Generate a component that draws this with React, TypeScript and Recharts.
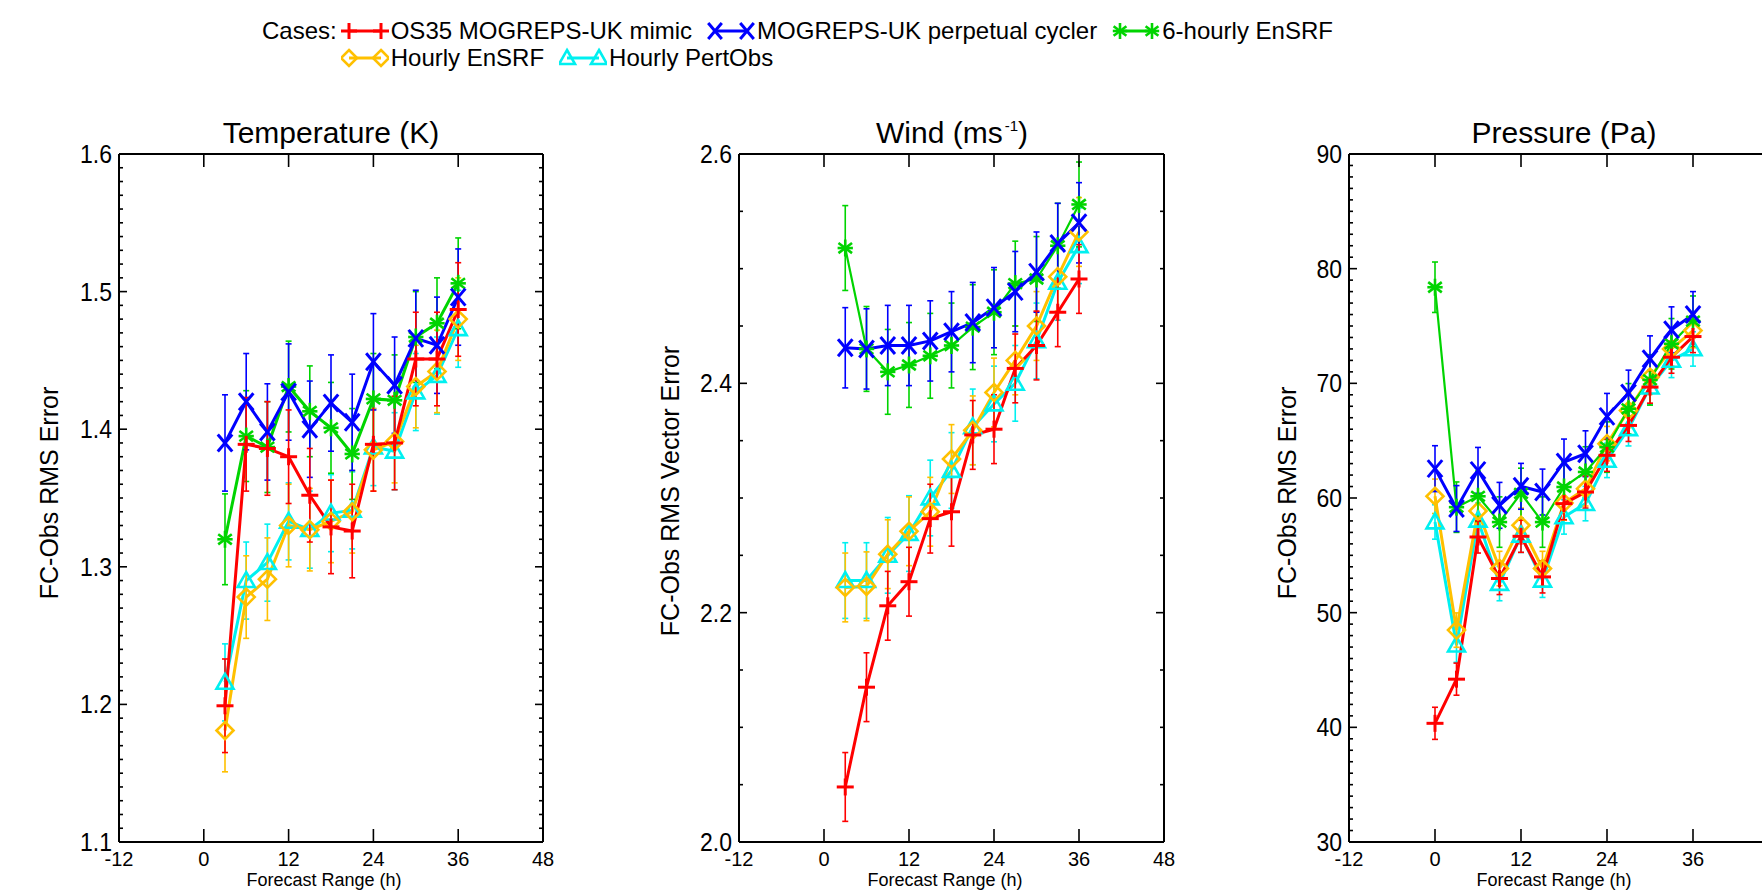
import React from 'react';
import { LineChart, Line, XAxis, YAxis, ErrorBar } from 'recharts';

// forecast ranges (h)
const hours = [3, 6, 9, 12, 15, 18, 21, 24, 27, 30, 33, 36];
const hoursP = [0, 3, 6, 9, 12, 15, 18, 21, 24, 27, 30, 33, 36];

// Temperature (K)
const tempOS35 = [1.199, 1.389, 1.386, 1.38, 1.352, 1.329, 1.326, 1.389, 1.39, 1.451, 1.451, 1.487];
const tempCycler = [1.39, 1.42, 1.398, 1.427, 1.4, 1.419, 1.405, 1.449, 1.432, 1.466, 1.461, 1.496];
const tempEns6 = [1.32, 1.395, 1.387, 1.431, 1.413, 1.401, 1.382, 1.422, 1.421, 1.467, 1.477, 1.506];
const tempEnsH = [1.181, 1.278, 1.291, 1.33, 1.327, 1.333, 1.34, 1.385, 1.391, 1.431, 1.442, 1.48];
const tempPert = [1.216, 1.29, 1.303, 1.333, 1.327, 1.339, 1.341, 1.387, 1.384, 1.427, 1.439, 1.473];
const tempErr = [0.034, 0.035, 0.033, 0.03, 0.028];

// Wind (m/s)
const windOS35 = [2.048, 2.135, 2.206, 2.227, 2.282, 2.288, 2.355, 2.36, 2.413, 2.433, 2.462, 2.491];
const windCycler = [2.431, 2.43, 2.433, 2.433, 2.437, 2.445, 2.453, 2.466, 2.48, 2.497, 2.522, 2.54];
const windEns6 = [2.518, 2.43, 2.41, 2.416, 2.424, 2.433, 2.449, 2.462, 2.487, 2.491, 2.52, 2.556];
const windEnsH = [2.222, 2.223, 2.251, 2.271, 2.288, 2.334, 2.359, 2.392, 2.42, 2.45, 2.493, 2.532];
const windPert = [2.228, 2.228, 2.25, 2.269, 2.3, 2.324, 2.362, 2.382, 2.4, 2.437, 2.488, 2.52];
const windErr = [0.03, 0.035, 0.037, 0.03, 0.033];

// Pressure (Pa)
const presOS35 = [40.35, 44.2, 56.6, 52.98, 56.66, 53.12, 59.51, 60.52, 63.72, 66.33, 69.67, 72.28, 74.08];
const presCycler = [62.56, 59.08, 62.41, 59.36, 61.02, 60.52, 63.14, 63.86, 67.12, 69.15, 72.14, 74.67, 76.0];
const presEns6 = [78.38, 59.2, 60.15, 57.9, 60.4, 57.9, 60.96, 62.27, 64.44, 67.78, 70.3, 73.45, 75.42];
const presEnsH = [60.15, 48.48, 58.87, 53.85, 57.62, 53.85, 59.57, 60.8, 64.74, 67.64, 70.54, 73.0, 74.6];
const presPert = [57.91, 47.17, 58.06, 52.54, 56.75, 52.83, 58.35, 59.51, 63.28, 66.04, 69.67, 72.0, 73.0];
const presErr = [1.4, 2.0, 2.2, 1.5, 1.5];

const xTicks = [-12, 0, 12, 24, 36, 48];
const tempMajor = [1.1, 1.2, 1.3, 1.4, 1.5, 1.6];
const windMajor = [2.0, 2.2, 2.4, 2.6];
const presMajor = [30, 40, 50, 60, 70, 80, 90];

const caseNames = ['OS35 MOGREPS-UK mimic', 'MOGREPS-UK perpetual cycler', '6-hourly EnSRF', 'Hourly EnSRF', 'Hourly PertObs'];
const caseKeys = ['os35', 'cycler', 'ens6', 'ensH', 'pert'];
const caseColors = ['#ff0000', '#0000ff', '#00d400', '#ffc000', '#00f0f0'];
const caseMarks = ['plus', 'x', 'star', 'diamond', 'tri'];
// drawing order, last on top
const drawOrder = [4, 3, 2, 1, 0];

const FONT = '"Liberation Sans", Arial, Helvetica, sans-serif';

const buildRows = (xs: number[], series: number[][], errs: number[]) =>
  xs.map((x, i) => {
    const r: any = { x };
    caseKeys.forEach((k, j) => {
      r[k] = series[j][i];
      r[k + 'E'] = errs[j];
    });
    return r;
  });

const tempRows = buildRows(hours, [tempOS35, tempCycler, tempEns6, tempEnsH, tempPert], tempErr);
const windRows = buildRows(hours, [windOS35, windCycler, windEns6, windEnsH, windPert], windErr);
const presRows = buildRows(hoursP, [presOS35, presCycler, presEns6, presEnsH, presPert], presErr);

const Mark = ({ kind, cx, cy, color, r = 8.5, sw = 2.6 }: any) => {
  if (cx == null || cy == null) return null;
  const common = { stroke: color, strokeWidth: sw, fill: 'none' };
  if (kind === 'plus')
    return (
      <g {...common} strokeWidth={3}>
        <line x1={cx - r} y1={cy} x2={cx + r} y2={cy} />
        <line x1={cx} y1={cy - r} x2={cx} y2={cy + r} />
      </g>
    );
  if (kind === 'x')
    return (
      <g {...common} strokeWidth={3}>
        <line x1={cx - r * 0.85} y1={cy - r} x2={cx + r * 0.85} y2={cy + r} />
        <line x1={cx - r * 0.85} y1={cy + r} x2={cx + r * 0.85} y2={cy - r} />
      </g>
    );
  if (kind === 'star')
    return (
      <g {...common}>
        <line x1={cx} y1={cy - r} x2={cx} y2={cy + r} />
        <line x1={cx - r * 0.8} y1={cy - r * 0.6} x2={cx + r * 0.8} y2={cy + r * 0.6} />
        <line x1={cx - r * 0.8} y1={cy + r * 0.6} x2={cx + r * 0.8} y2={cy - r * 0.6} />
        <line x1={cx - r * 0.9} y1={cy} x2={cx + r * 0.9} y2={cy} />
      </g>
    );
  if (kind === 'diamond')
    return <polygon {...common} points={`${cx},${cy - r} ${cx + r},${cy} ${cx},${cy + r} ${cx - r},${cy}`} />;
  return <polygon {...common} points={`${cx},${cy - r} ${cx + r},${cy + r * 0.75} ${cx - r},${cy + r * 0.75}`} />;
};

const minorTicks = (lo: number, hi: number, step: number) => {
  const out: number[] = [];
  const n = Math.round((hi - lo) / step);
  for (let i = 0; i <= n; i++) out.push(Math.round((lo + i * step) * 1000) / 1000);
  return out;
};

const makeYTick = (side: 'l' | 'r', majors: number[], fmt: (v: number) => string) => (p: any) => {
  const v = p.payload.value;
  const maj = majors.some((m) => Math.abs(m - v) < 1e-6);
  const len = maj ? 8 : 4;
  const dir = side === 'l' ? 1 : -1;
  return (
    <g>
      <line x1={p.x} y1={p.y} x2={p.x + dir * len} y2={p.y} stroke="#000" strokeWidth={1.6} />
      {side === 'l' && maj ? (
        <text
          transform={`translate(${p.x - 7},${p.y}) scale(0.92,1)`}
          dy="0.36em"
          textAnchor="end"
          fontSize={25}
          fontFamily={FONT}
          fill="#000"
        >
          {fmt(v)}
        </text>
      ) : null}
    </g>
  );
};

// the last (48) label of the clipped pressure panel lies outside the picture
const makeXTick = (side: 'b' | 't', hideLabel?: number) => (p: any) => {
  const v = p.payload.value;
  const dir = side === 'b' ? -1 : 1;
  return (
    <g>
      <line x1={p.x} y1={p.y} x2={p.x} y2={p.y + dir * 13} stroke="#000" strokeWidth={1.6} />
      {side === 'b' && v !== hideLabel ? (
        <text x={p.x} y={p.y + 24} textAnchor="middle" fontSize={20} fontFamily={FONT} fill="#000">
          {v}
        </text>
      ) : null}
    </g>
  );
};

const axisCommon = {
  allowDataOverflow: true,
  tickSize: 0,
  tickMargin: 0,
  interval: 0 as const,
  tickLine: false,
  axisLine: { stroke: '#000', strokeWidth: 2 },
};

const Panel = ({ plotLeft, plotW, rows, domain, ticks, majors, fmt, thinGreen, hideX }: any) => {
  // axes take 1px each, margins are reduced by that so the plot box lands where wanted
  const ml = 100;
  const mr = 30;
  return (
    <div style={{ position: 'absolute', left: plotLeft - ml, top: 100 }}>
      <LineChart
        width={plotW + ml + mr}
        height={791}
        data={rows}
        margin={{ top: 53, bottom: 48, left: ml - 1, right: mr - 1 }}
      >
        <XAxis xAxisId="b" dataKey="x" type="number" domain={[-12, 48]} ticks={xTicks} height={1} {...axisCommon} tick={makeXTick('b', hideX)} />
        <XAxis xAxisId="t" dataKey="x" orientation="top" type="number" domain={[-12, 48]} ticks={xTicks} height={1} {...axisCommon} tick={makeXTick('t')} />
        <YAxis yAxisId="l" type="number" domain={domain} ticks={ticks} width={1} {...axisCommon} tick={makeYTick('l', majors, fmt)} />
        <YAxis yAxisId="r" orientation="right" type="number" domain={domain} ticks={ticks} width={1} {...axisCommon} tick={makeYTick('r', majors, fmt)} />
        {drawOrder.map((j) => {
          const k = caseKeys[j];
          const c = caseColors[j];
          const sw = thinGreen && k === 'ens6' ? 2.2 : 3;
          return (
            <Line
              key={k}
              xAxisId="b"
              yAxisId="l"
              dataKey={k}
              type="linear"
              stroke={c}
              strokeWidth={sw}
              isAnimationActive={false}
              activeDot={false}
              dot={(d: any) => <Mark key={`${k}-${d.index}`} kind={caseMarks[j]} cx={d.cx} cy={d.cy} color={c} />}
            >
              <ErrorBar dataKey={k + 'E'} direction="y" width={3} stroke={c} strokeWidth={1.6} isAnimationActive={false} />
            </Line>
          );
        })}
      </LineChart>
    </div>
  );
};

const LegendItem = ({ j }: { j: number }) => (
  <span style={{ display: 'inline-flex', alignItems: 'center', marginRight: 15 }}>
    <svg width={48} height={27}>
      <line x1={8} y1={14} x2={40} y2={14} stroke={caseColors[j]} strokeWidth={3} />
      <Mark kind={caseMarks[j]} cx={8} cy={14} color={caseColors[j]} r={8} />
      <Mark kind={caseMarks[j]} cx={40} cy={14} color={caseColors[j]} r={8} />
    </svg>
    <span style={{ marginLeft: 2 }}>{caseNames[j]}</span>
  </span>
);

export default function App() {
  const f1 = (v: number) => v.toFixed(1);
  const f0 = (v: number) => String(Math.round(v));
  return (
    <div
      style={{
        position: 'absolute',
        left: 0,
        top: 0,
        width: 1762,
        height: 891,
        overflow: 'hidden',
        background: '#fff',
        fontFamily: FONT,
      }}
    >
      <div style={{ position: 'absolute', left: 262, top: 17, display: 'flex', fontSize: 24, lineHeight: '27px', color: '#000', whiteSpace: 'nowrap' }}>
        <div style={{ marginRight: 4 }}>Cases:</div>
        <div>
          <div style={{ display: 'flex' }}>
            <LegendItem j={0} />
            <LegendItem j={1} />
            <LegendItem j={2} />
          </div>
          <div style={{ display: 'flex' }}>
            <LegendItem j={3} />
            <LegendItem j={4} />
          </div>
        </div>
      </div>

      <Panel plotLeft={119} plotW={424} rows={tempRows} domain={[1.1, 1.6]} ticks={minorTicks(1.1, 1.6, 0.01)} majors={tempMajor} fmt={f1} />
      <Panel plotLeft={739} plotW={425} rows={windRows} domain={[2.0, 2.6]} ticks={minorTicks(2.0, 2.6, 0.05)} majors={windMajor} fmt={f1} thinGreen />
      <Panel plotLeft={1349} plotW={430} rows={presRows} domain={[30, 90]} ticks={minorTicks(30, 90, 1)} majors={presMajor} fmt={f0} thinGreen hideX={48} />

      <svg width={1762} height={891} style={{ position: 'absolute', left: 0, top: 0, pointerEvents: 'none' }} fontFamily={FONT}>
        <text x={331} y={143} textAnchor="middle" fontSize={30}>Temperature (K)</text>
        <text x={952} y={143} textAnchor="middle" fontSize={30}>
          Wind (ms<tspan fontSize={15} dy={-12} dx={2}>-1</tspan><tspan dy={12}>)</tspan>
        </text>
        <text x={1564} y={143} textAnchor="middle" fontSize={30}>Pressure (Pa)</text>

        <text transform="translate(58,493) rotate(-90)" textAnchor="middle" fontSize={25}>FC-Obs RMS Error</text>
        <text transform="translate(679,491) rotate(-90)" textAnchor="middle" fontSize={25}>FC-Obs RMS Vector Error</text>
        <text transform="translate(1296,493) rotate(-90)" textAnchor="middle" fontSize={25}>FC-Obs RMS Error</text>

        <text x={324} y={886} textAnchor="middle" fontSize={18}>Forecast Range (h)</text>
        <text x={945} y={886} textAnchor="middle" fontSize={18}>Forecast Range (h)</text>
        <text x={1554} y={886} textAnchor="middle" fontSize={18}>Forecast Range (h)</text>
      </svg>
    </div>
  );
}
